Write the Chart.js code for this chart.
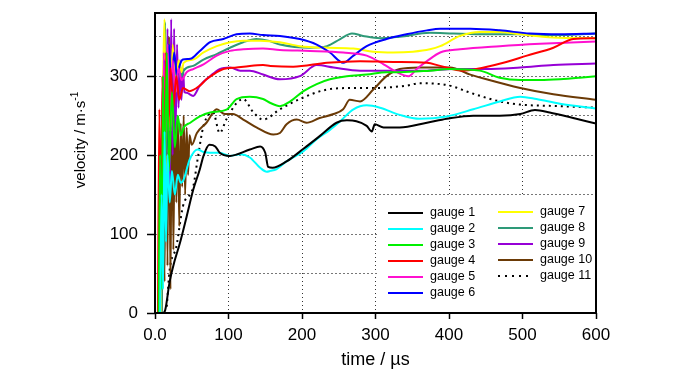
<!DOCTYPE html>
<html>
<head>
<meta charset="utf-8">
<script src="https://cdn.jsdelivr.net/npm/chart.js@4.4.1/dist/chart.umd.min.js"></script>
<style>
  html, body { margin: 0; padding: 0; background: #fff; }
  #chart { display: block; }
</style>
</head>
<body>
<canvas id="chart" width="700" height="373"></canvas>
<script>
// time (µs) / velocity (m/s), one pair of arrays per gauge
var g1Time = [12, 14, 20, 27, 34, 43, 52, 61, 66, 74, 82, 88, 102, 129, 143, 150, 154, 160, 179, 202, 224, 247, 261, 274, 288, 295, 299, 311, 333, 370, 397, 433, 469, 497, 517, 537, 569, 600];
var g1Vel  = [0, 4, 40, 67, 89, 122, 156, 182, 199, 213, 211, 203, 199, 207, 211, 203, 185, 184, 192, 208, 224, 241, 244, 243, 237, 230, 239, 235, 235, 241, 246, 250, 250, 252, 257, 254, 247, 240];

var g2Time = [7, 9, 11, 13, 15, 17, 20, 23, 27, 31, 35, 39, 47, 58, 66, 75, 88, 102, 116, 129, 143, 152, 157, 165, 179, 202, 220, 238, 252, 270, 288, 306, 333, 360, 397, 433, 469, 497, 519, 551, 600];
var g2Vel  = [0, 150, 30, 230, 90, 200, 140, 180, 150, 175, 165, 169, 194, 207, 204, 203, 203, 199, 201, 197, 184, 179, 180, 182, 192, 205, 220, 232, 243, 258, 263, 260, 251, 246, 249, 258, 268, 274, 271, 265, 259];

var g3Time = [5, 7, 9, 11, 13, 16, 19, 23, 27, 31, 35, 39, 48, 61, 75, 98, 111, 129, 147, 157, 170, 184, 202, 220, 238, 261, 288, 315, 333, 374, 401, 442, 469, 497, 524, 551, 578, 600];
var g3Vel  = [0, 200, 30, 300, 120, 330, 180, 280, 210, 250, 225, 235, 241, 249, 254, 258, 271, 274, 271, 266, 262, 268, 281, 290, 296, 300, 302, 305, 305, 307, 309, 307, 298, 295, 295, 296, 298, 300];

var g4Time = [4, 6, 8, 10, 12, 15, 18, 21, 25, 29, 33, 38, 47, 61, 70, 79, 93, 111, 129, 147, 157, 188, 234, 279, 324, 370, 388, 419, 437, 474, 506, 542, 569, 600];
var g4Vel  = [0, 258, 40, 300, 120, 330, 230, 310, 260, 300, 270, 285, 281, 288, 296, 302, 309, 311, 313, 314, 313, 312, 317, 319, 318, 317, 313, 307, 309, 317, 326, 336, 347, 348];

var g5Time = [6, 8, 10, 12, 14, 17, 20, 24, 28, 32, 36, 43, 52, 66, 84, 102, 120, 147, 170, 211, 256, 288, 311, 329, 345, 356, 370, 388, 415, 469, 524, 600];
var g5Vel  = [0, 220, 60, 330, 180, 340, 250, 320, 280, 310, 295, 305, 309, 315, 326, 332, 334, 335, 333, 332, 330, 326, 315, 305, 300, 309, 319, 330, 334, 338, 341, 344];

var g6Time = [7, 9, 11, 13, 16, 19, 22, 26, 30, 34, 38, 48, 61, 75, 93, 111, 129, 147, 170, 197, 220, 238, 256, 270, 288, 315, 342, 370, 388, 429, 469, 510, 551, 600];
var g6Vel  = [0, 250, 80, 320, 200, 340, 280, 330, 300, 315, 321, 322, 332, 343, 347, 353, 354, 352, 351, 347, 340, 330, 317, 326, 338, 347, 353, 358, 360, 360, 358, 354, 353, 354];

var g7Time = [8, 10, 13, 15, 18, 21, 24, 28, 32, 36, 39, 52, 66, 84, 102, 120, 143, 170, 197, 234, 270, 297, 324, 351, 374, 388, 415, 442, 469, 497, 542, 600];
var g7Vel  = [0, 200, 372, 150, 330, 230, 340, 280, 320, 305, 317, 321, 330, 338, 343, 345, 345, 343, 338, 336, 335, 331, 330, 331, 334, 338, 351, 356, 356, 353, 349, 348];

var g8Time = [9, 11, 14, 16, 19, 22, 25, 29, 33, 37, 39, 52, 66, 84, 102, 120, 138, 154, 170, 211, 234, 252, 268, 283, 306, 333, 374, 406, 451, 497, 542, 600];
var g8Vel  = [0, 250, 368, 200, 340, 250, 330, 290, 315, 300, 307, 313, 321, 328, 336, 343, 347, 345, 340, 336, 338, 347, 354, 351, 348, 350, 355, 354, 353, 353, 352, 354];

var g9Time = [8, 11, 14, 17, 20, 22, 24, 26, 28, 30, 32, 34, 36, 38, 40, 43, 52, 61, 75, 88, 102, 116, 129, 147, 170, 197, 220, 243, 279, 324, 370, 406, 451, 497, 542, 600];
var g9Vel  = [0, 300, 120, 360, 150, 372, 200, 360, 230, 340, 260, 320, 270, 310, 280, 279, 275, 288, 300, 309, 311, 307, 307, 302, 296, 300, 314, 311, 307, 307, 307, 309, 309, 311, 314, 316];

var g10Time = [9, 11, 13, 15, 17, 19, 21, 23, 25, 27, 29, 31, 33, 35, 37, 39, 41, 43, 45, 47, 50, 57, 70, 84, 95, 106, 120, 138, 161, 170, 179, 193, 206, 224, 243, 256, 265, 279, 297, 315, 333, 360, 401, 429, 451, 497, 542, 600];
var g10Vel  = [0, 200, 40, 330, 60, 350, 30, 300, 80, 260, 140, 250, 110, 240, 160, 250, 150, 235, 175, 225, 213, 228, 241, 258, 252, 252, 245, 235, 226, 228, 239, 245, 241, 247, 252, 258, 270, 268, 283, 300, 309, 311, 311, 302, 296, 285, 277, 270];

var g11Time = [16, 20, 29, 38, 52, 58, 66, 79, 88, 97, 111, 120, 134, 147, 170, 197, 234, 270, 297, 342, 360, 401, 429, 469, 497, 551, 600];
var g11Vel  = [8, 55, 84, 135, 160, 195, 237, 254, 228, 245, 266, 271, 254, 245, 258, 271, 283, 285, 285, 288, 291, 288, 279, 268, 264, 262, 260];

var gaugeNames = ['gauge 1', 'gauge 2', 'gauge 3', 'gauge 4', 'gauge 5', 'gauge 6', 'gauge 7', 'gauge 8', 'gauge 9', 'gauge 10', 'gauge 11'];
var gaugeTimes = [g1Time, g2Time, g3Time, g4Time, g5Time, g6Time, g7Time, g8Time, g9Time, g10Time, g11Time];
var gaugeVels  = [g1Vel, g2Vel, g3Vel, g4Vel, g5Vel, g6Vel, g7Vel, g8Vel, g9Vel, g10Vel, g11Vel];
var gaugeColors = ['#000000', '#00ffff', '#00f000', '#ff0000', '#ff10d0', '#0000ff', '#ffff00', '#2e9a78', '#9600d6', '#6b3a06', '#000000'];

var xTicks = [0, 100, 200, 300, 400, 500, 600];
var yTicks = [0, 50, 100, 150, 200, 250, 300, 350];

var FONT = '"Liberation Sans", Arial, sans-serif';

var datasets = gaugeNames.map(function (name, i) {
    return {
        label: name,
        data: gaugeTimes[i].map(function (t, j) { return { x: t, y: gaugeVels[i][j] }; }),
        borderColor: gaugeColors[i],
        borderWidth: 2,
        borderDash: i === 10 ? [2, 4] : [],
        pointRadius: 0,
        fill: false,
        cubicInterpolationMode: 'monotone'
    };
});

// legend in two columns, on a white patch inside the plot, plus frame and y title
var decorPlugin = {
    id: 'decor',
    afterDraw: function (chart) {
        var ctx = chart.ctx, area = chart.chartArea;
        ctx.save();
        ctx.fillStyle = '#fff';
        ctx.fillRect(area.left + 222, area.top + 184, area.right - area.left - 222, area.bottom - area.top - 184);

        ctx.font = '12.5px ' + FONT;
        ctx.textBaseline = 'middle';
        ctx.fillStyle = '#000';
        chart.data.datasets.forEach(function (ds, i) {
            var col = i < 6 ? 0 : 1;
            var row = col ? i - 6 : i;
            var x = area.left + (col ? 343 : 233);
            var y = area.top + (col ? 199 : 200) + row * 16;
            ctx.beginPath();
            ctx.strokeStyle = ds.borderColor;
            ctx.lineWidth = 2;
            ctx.setLineDash(i === 10 ? [2, 5] : []);
            ctx.moveTo(x, y);
            ctx.lineTo(x + 35, y);
            ctx.stroke();
            ctx.setLineDash([]);
            ctx.fillText(ds.label, x + 42, y);
        });

        ctx.strokeStyle = '#000';
        ctx.lineWidth = 2;
        ctx.strokeRect(area.left, area.top, area.right - area.left, area.bottom - area.top);

        // y axis title with superscript
        var main = 'velocity / m\u00b7s', sup = '-1';
        ctx.font = '15px ' + FONT;
        var w1 = ctx.measureText(main).width;
        ctx.font = '10px ' + FONT;
        var w2 = ctx.measureText(sup).width;
        ctx.translate(81, 140);
        ctx.rotate(-Math.PI / 2);
        ctx.textAlign = 'left';
        ctx.font = '15px ' + FONT;
        ctx.fillText(main, -(w1 + w2) / 2, 0);
        ctx.font = '10px ' + FONT;
        ctx.fillText(sup, -(w1 + w2) / 2 + w1, -6);
        ctx.restore();
    }
};

new Chart(document.getElementById('chart'), {
    type: 'line',
    data: { datasets: datasets },
    options: {
        responsive: false,
        animation: false,
        devicePixelRatio: 1,
        layout: { padding: { left: 100, right: 104, top: 13, bottom: 0 } },
        plugins: { legend: { display: false }, tooltip: { enabled: false } },
        scales: {
            x: {
                type: 'linear',
                min: 0,
                max: 600,
                afterBuildTicks: function (axis) { axis.ticks = xTicks.map(function (v) { return { value: v }; }); },
                afterFit: function (axis) { axis.height = 60; },
                ticks: {
                    color: '#000',
                    font: { family: FONT, size: 17 },
                    padding: 6,
                    maxRotation: 0,
                    callback: function (v) { return v === 0 ? '0.0' : String(v); }
                },
                grid: {
                    color: function (c) { return (c.tick && (c.tick.value === 0 || c.tick.value === 600)) ? 'rgba(0,0,0,0)' : '#333'; },
                    lineWidth: 1,
                    tickColor: '#000',
                    tickLength: 6,
                    tickWidth: 1.5,
                    tickBorderDash: []
                },
                border: { display: false, dash: [1, 3] },
                title: {
                    display: true,
                    text: 'time / \u00b5s',
                    color: '#000',
                    font: { family: FONT, size: 18 },
                    padding: { top: 0, bottom: 2 }
                }
            },
            y: {
                min: 0,
                max: 380,
                afterBuildTicks: function (axis) { axis.ticks = yTicks.map(function (v) { return { value: v }; }); },
                afterFit: function (axis) { axis.width = 55; axis.paddingTop = 0; axis.paddingBottom = 0; },
                ticks: {
                    color: '#000',
                    font: { family: FONT, size: 17 },
                    padding: 9,
                    callback: function (v) { return v % 100 === 0 ? String(v) : ''; }
                },
                grid: {
                    color: function (c) { return (c.tick && c.tick.value === 0) ? 'rgba(0,0,0,0)' : '#777'; },
                    lineWidth: 1,
                    tickColor: function (c) { return (c.tick && c.tick.value % 100 === 0) ? '#000' : 'rgba(0,0,0,0)'; },
                    tickLength: 8,
                    tickWidth: 1.5,
                    tickBorderDash: []
                },
                border: { display: false, dash: [2, 2] }
            }
        }
    },
    plugins: [decorPlugin]
});
</script>
</body>
</html>
